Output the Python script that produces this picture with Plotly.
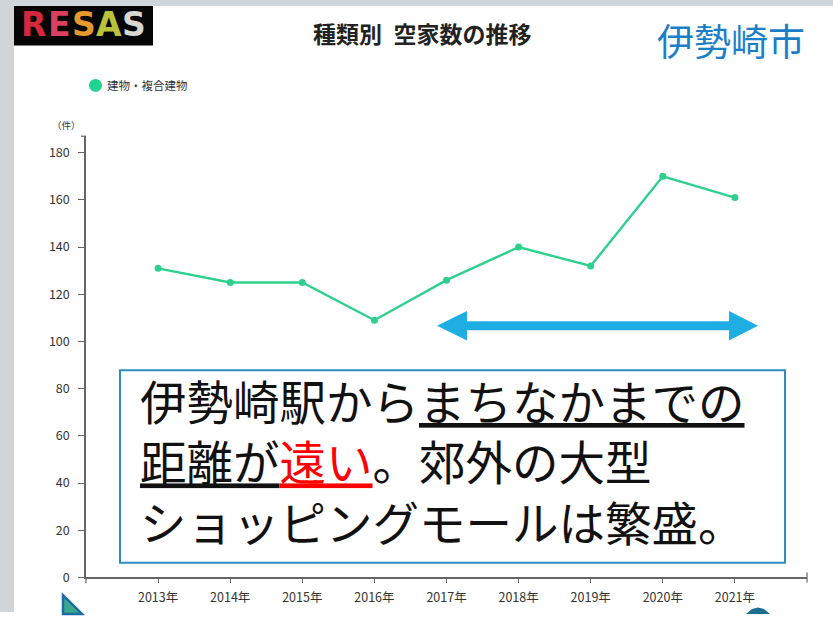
import plotly.graph_objects as go

# ---- data -------------------------------------------------------------
years = ["2013年", "2014年", "2015年", "2016年", "2017年", "2018年", "2019年", "2020年", "2021年"]
vacant_houses = [131, 125, 125, 109, 126, 140, 132, 170, 161]
series_name = "建物・複合建物"
y_ticks = [0, 20, 40, 60, 80, 100, 120, 140, 160, 180]

chart_title = "種類別\u2002空家数の推移"
city_name = "伊勢崎市"
unit_label = "（件）"

# ---- canvas helpers (pixel -> paper) ----------------------------------
W, H = 833, 620
FONT = "Noto Sans CJK JP"


def px(x):
    return x / W


def py(y):
    return 1 - y / H


def path(points):
    return "M " + " L ".join(f"{px(x):.5f},{py(y):.5f}" for x, y in points) + " Z"


LINE_COLOR = "#2dd08f"

fig = go.Figure()
fig.add_trace(go.Scatter(
    x=years, y=vacant_houses, name=series_name,
    mode="lines+markers",
    line=dict(color=LINE_COLOR, width=2.4),
    marker=dict(color=LINE_COLOR, size=7),
    showlegend=False,
))

shapes = []
annotations = []

# slide background: grey frame on left/top
shapes.append(dict(type="rect", xref="paper", yref="paper", x0=0, x1=1, y0=0, y1=1,
                   fillcolor="#d0d5d9", line=dict(width=0), layer="below"))
shapes.append(dict(type="rect", xref="paper", yref="paper", x0=px(14), x1=1, y0=0, y1=py(6),
                   fillcolor="#ffffff", line=dict(width=0), layer="below"))

# RESAS logo block
shapes.append(dict(type="rect", xref="paper", yref="paper", x0=px(14), x1=px(153), y0=py(46), y1=py(6),
                   fillcolor="#050505", line=dict(width=0), layer="below"))
for ch, cx, col in zip("RESAS", [33, 59, 84, 109, 134],
                       ["#d4283e", "#d8405e", "#e59a2a", "#b9c23a", "#d8d8d0"]):
    annotations.append(dict(text=f"<b>{ch}</b>", x=px(cx), y=py(25), xref="paper", yref="paper",
                            showarrow=False, xanchor="center", yanchor="middle",
                            font=dict(family="DejaVu Sans", size=33, color=col)))

# title and city name
annotations.append(dict(text=f"<b>{chart_title}</b>", x=px(422), y=py(33), xref="paper", yref="paper",
                        showarrow=False, xanchor="center", yanchor="middle",
                        font=dict(family=FONT, size=23, color="#222222")))
annotations.append(dict(text=city_name, x=px(731), y=py(41), xref="paper", yref="paper",
                        showarrow=False, xanchor="center", yanchor="middle",
                        font=dict(family=FONT, size=37, color="#1b7fc8")))

# legend entry
shapes.append(dict(type="circle", xref="paper", yref="paper",
                   x0=px(89), x1=px(102), y0=py(93), y1=py(80),
                   fillcolor="#1fd490", line=dict(width=0)))
annotations.append(dict(text=series_name, x=px(105), y=py(86), xref="paper", yref="paper",
                        showarrow=False, xanchor="left", yanchor="middle",
                        font=dict(family=FONT, size=11.5, color="#333333")))

# unit label
annotations.append(dict(text=unit_label, x=px(66), y=py(127), xref="paper", yref="paper",
                        showarrow=False, xanchor="center", yanchor="middle",
                        font=dict(family=FONT, size=9.5, color="#333333")))

# axis end caps
shapes.append(dict(type="line", xref="paper", yref="paper", x0=px(81), x1=px(86), y0=py(138), y1=py(138),
                   line=dict(color="#666666", width=1.2)))
shapes.append(dict(type="line", xref="paper", yref="paper", x0=px(807), x1=px(807), y0=py(580), y1=py(590),
                   line=dict(color="#666666", width=1.2)))
shapes.append(dict(type="line", xref="paper", yref="paper", x0=px(86), x1=px(86), y0=py(585), y1=py(591),
                   line=dict(color="#666666", width=1.2)))

# double-headed arrow
shapes.append(dict(type="path", xref="paper", yref="paper",
                   path=path([(437, 330), (467, 315), (467, 325.5), (729, 325.5), (729, 315),
                              (758, 330), (729, 345), (729, 334.5), (467, 334.5), (467, 345)]),
                   fillcolor="#1eaee3", line=dict(width=0)))

# comment box
shapes.append(dict(type="rect", xref="paper", yref="paper", x0=px(120), x1=px(785), y0=py(570), y1=py(375),
                   fillcolor="#ffffff", line=dict(color="#2b8cbf", width=2)))
box_text = "<br>".join([
    "伊勢崎駅から<u>まちなかまでの</u>",
    "<u>距離が</u><span style='color:#ff0000'><u>遠い</u></span>。郊外の大型",
    "ショッピングモールは繁盛。",
])
annotations.append(dict(text=box_text, x=px(138), y=py(466), xref="paper", yref="paper",
                        showarrow=False, xanchor="left", yanchor="middle", align="left",
                        font=dict(family=FONT, size=46.5, color="#111111")))

# slide decorations at the bottom edge
shapes.append(dict(type="path", xref="paper", yref="paper",
                   path=path([(63, 603), (63, 622), (82, 622)]),
                   fillcolor="#3aa98c", line=dict(color="#1d6aa5", width=2.5)))
shapes.append(dict(type="path", xref="paper", yref="paper",
                   path=path([(746, 622), (752, 617), (758, 615.5), (764, 617), (770, 622)]),
                   fillcolor="#1c6e8c", line=dict(width=0)))

fig.update_layout(
    width=W, height=H,
    margin=dict(l=0, r=0, t=0, b=0),
    paper_bgcolor="#ffffff",
    plot_bgcolor="rgba(0,0,0,0)",
    shapes=shapes,
    annotations=annotations,
    xaxis=dict(
        domain=[px(86), px(807)],
        type="category",
        range=[-1, len(years)],
        showgrid=False, zeroline=False,
        showline=True, linecolor="#666666", linewidth=1.5,
        ticks="outside", ticklen=4, tickcolor="#666666",
        ticklabelstandoff=4,
        tickfont=dict(family=FONT, size=12.5, color="#333333"),
        fixedrange=True,
    ),
    yaxis=dict(
        domain=[1 - 585 / H, 1 - 138 / H],
        range=[0, 187],
        tickvals=y_ticks,
        showgrid=False, zeroline=False,
        showline=True, linecolor="#666666", linewidth=1.5,
        ticks="outside", ticklen=6, tickcolor="#666666",
        ticklabelstandoff=6,
        tickfont=dict(family=FONT, size=12.5, color="#333333"),
        fixedrange=True,
    ),
)

fig.write_html("out.html")
